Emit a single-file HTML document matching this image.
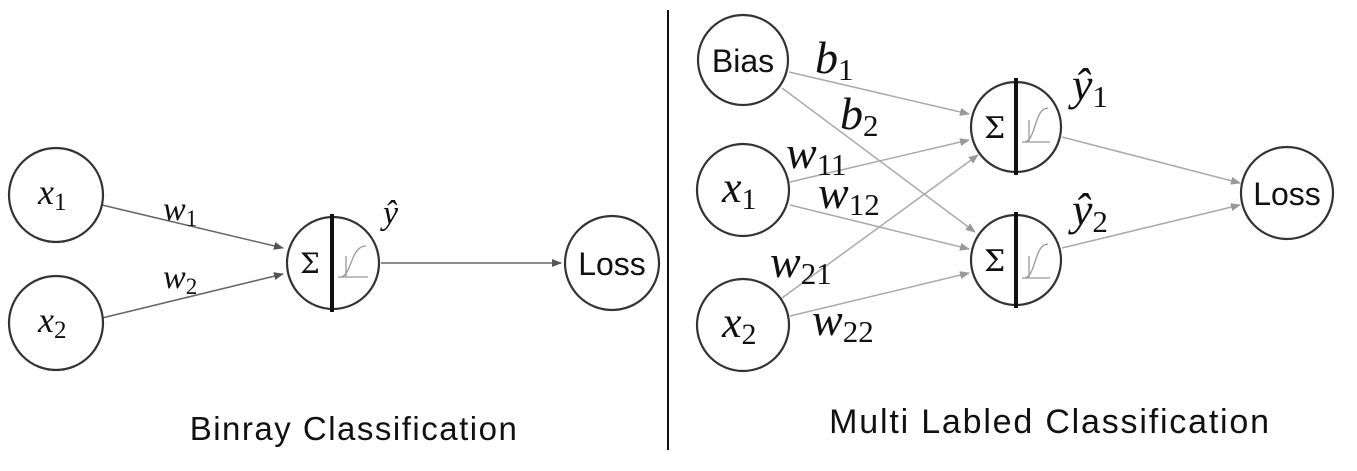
<!DOCTYPE html>
<html><head><meta charset="utf-8"><style>
html,body{margin:0;padding:0;background:#fff;}
svg{display:block;}
.n{fill:#fff;stroke:#333;stroke-width:2.2;}
.m{font-family:"Liberation Serif",serif;font-style:italic;fill:#111;}
.s{font-family:"Liberation Sans",sans-serif;fill:#111;}
.t{font-family:"DejaVu Serif","Liberation Serif",serif;fill:#111;}
</style></head><body>
<svg width="1357" height="471" viewBox="0 0 1357 471" xmlns="http://www.w3.org/2000/svg">
<defs>
<marker id="ad" markerWidth="10" markerHeight="8" refX="9" refY="4" orient="auto" markerUnits="userSpaceOnUse"><path d="M0,0 L10,4 L0,8 z" fill="#555"/></marker>
<marker id="al" markerWidth="10" markerHeight="8" refX="9" refY="4" orient="auto" markerUnits="userSpaceOnUse"><path d="M0,0 L10,4 L0,8 z" fill="#999"/></marker>
</defs>

<g>
<line x1="102" y1="205" x2="283" y2="248" stroke="#666" stroke-width="1.5" marker-end="url(#ad)"/>
<line x1="102" y1="318" x2="283" y2="274" stroke="#666" stroke-width="1.5" marker-end="url(#ad)"/>
<line x1="381" y1="263" x2="561" y2="263" stroke="#666" stroke-width="1.5" marker-end="url(#ad)"/>
<circle class="n" cx="56" cy="195" r="47"/>
<text class="m" x="38" y="204" font-size="36">x<tspan font-style="normal" font-size="25" dy="6">1</tspan></text>
<circle class="n" cx="56" cy="323" r="47"/>
<text class="m" x="38" y="332" font-size="36">x<tspan font-style="normal" font-size="25" dy="6">2</tspan></text>
<circle class="n" cx="333" cy="263" r="46"/>
<line x1="332" y1="214" x2="332" y2="312" stroke="#111" stroke-width="4"/>
<text class="t" x="300" y="273" font-size="28">Σ</text>
<path d="M338,277 L368,277 M346,277 L346,256 M340,277 C352,277 350,246 366,246" fill="none" stroke="#999" stroke-width="1.3"/>
<circle class="n" cx="612" cy="263" r="47"/>
<text class="s" x="612" y="275" font-size="32" text-anchor="middle">Loss</text>
<text class="m" x="163" y="220" font-size="34">w<tspan font-style="normal" font-size="23" dy="6">1</tspan></text>
<text class="m" x="163" y="288" font-size="34">w<tspan font-style="normal" font-size="23" dy="6">2</tspan></text>
<text class="m" x="383" y="224" font-size="34">ŷ</text>
<text class="s" x="354" y="440" font-size="33" letter-spacing="1.5" text-anchor="middle">Binray Classification</text>
</g>

<line x1="668" y1="10" x2="668" y2="450" stroke="#111" stroke-width="2"/>

<g>
<line x1="789" y1="72" x2="969" y2="114" stroke="#aaa" stroke-width="1.5" marker-end="url(#al)"/>
<line x1="782" y1="88" x2="975" y2="232" stroke="#aaa" stroke-width="1.5" marker-end="url(#al)"/>
<line x1="790" y1="182" x2="969" y2="140" stroke="#aaa" stroke-width="1.5" marker-end="url(#al)"/>
<line x1="790" y1="205" x2="969" y2="249" stroke="#aaa" stroke-width="1.5" marker-end="url(#al)"/>
<line x1="782" y1="298" x2="978" y2="155" stroke="#aaa" stroke-width="1.5" marker-end="url(#al)"/>
<line x1="790" y1="316" x2="969" y2="273" stroke="#aaa" stroke-width="1.5" marker-end="url(#al)"/>
<line x1="1062" y1="137" x2="1240" y2="183" stroke="#aaa" stroke-width="1.5" marker-end="url(#al)"/>
<line x1="1062" y1="248" x2="1240" y2="205" stroke="#aaa" stroke-width="1.5" marker-end="url(#al)"/>

<circle class="n" cx="743" cy="60" r="45"/>
<text class="s" x="743" y="72" font-size="32" text-anchor="middle">Bias</text>
<circle class="n" cx="743" cy="190" r="46"/>
<text class="m" x="722" y="202" font-size="44">x<tspan font-style="normal" font-size="30" dy="7">1</tspan></text>
<circle class="n" cx="743" cy="325" r="46"/>
<text class="m" x="722" y="337" font-size="44">x<tspan font-style="normal" font-size="30" dy="7">2</tspan></text>

<circle class="n" cx="1016" cy="127" r="45"/>
<line x1="1016" y1="78" x2="1016" y2="175" stroke="#111" stroke-width="4"/>
<text class="t" x="984" y="138" font-size="30">Σ</text>
<path d="M1022,142 L1050,142 M1029,142 L1029,120 M1024,142 C1036,142 1034,108 1048,108" fill="none" stroke="#999" stroke-width="1.3"/>
<circle class="n" cx="1016" cy="260" r="45"/>
<line x1="1016" y1="212" x2="1016" y2="308" stroke="#111" stroke-width="4"/>
<text class="t" x="984" y="271" font-size="30">Σ</text>
<path d="M1022,278 L1050,278 M1029,278 L1029,256 M1024,278 C1036,278 1034,244 1048,244" fill="none" stroke="#999" stroke-width="1.3"/>

<circle class="n" cx="1287" cy="193" r="46"/>
<text class="s" x="1287" y="205" font-size="32" text-anchor="middle">Loss</text>

<text class="m" x="815" y="73" font-size="46">b<tspan font-style="normal" font-size="31" dy="7">1</tspan></text>
<text class="m" x="840" y="129" font-size="46">b<tspan font-style="normal" font-size="31" dy="7">2</tspan></text>
<text class="m" x="786" y="168" font-size="46">w<tspan font-style="normal" font-size="31" dy="7">11</tspan></text>
<text class="m" x="818" y="208" font-size="46">w<tspan font-style="normal" font-size="31" dy="7">12</tspan></text>
<text class="m" x="770" y="277" font-size="46">w<tspan font-style="normal" font-size="31" dy="7">21</tspan></text>
<text class="m" x="812" y="335" font-size="46">w<tspan font-style="normal" font-size="31" dy="7">22</tspan></text>
<text class="m" x="1072" y="100" font-size="46">ŷ<tspan font-style="normal" font-size="31" dy="7">1</tspan></text>
<text class="m" x="1072" y="225" font-size="46">ŷ<tspan font-style="normal" font-size="31" dy="7">2</tspan></text>
<text class="s" x="1050" y="433" font-size="34" letter-spacing="1.8" text-anchor="middle">Multi Labled Classification</text>
</g>
</svg>
</body></html>
